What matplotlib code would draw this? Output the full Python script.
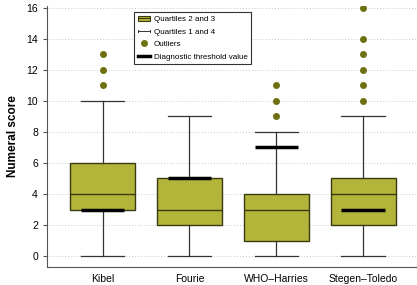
import matplotlib
matplotlib.use("Agg")
import matplotlib.pyplot as plt
from matplotlib.lines import Line2D
from matplotlib.legend_handler import HandlerBase
import matplotlib.patches as mpatches

plt.rcParams['font.family'] = ['Liberation Sans Narrow', 'Liberation Sans', 'DejaVu Sans']

categories = ["Kibel", "Fourie", "WHO\u2013Harries", "Stegen\u2013Toledo"]
whislo = [0, 0, 0, 0]
q1 = [3, 2, 1, 2]
med = [4, 3, 3, 4]
q3 = [6, 5, 4, 5]
whishi = [10, 9, 8, 9]
outliers = [[11, 12, 13], [], [9, 10, 11], [10, 11, 12, 13, 14, 16]]
threshold = [3, 5, 7, 3]
yticks = [0, 2, 4, 6, 8, 10, 12, 14, 16]

FILL = "#b3b53a"
EDGE = "#3a3a12"
OUT = "#6e7012"

fig = plt.figure(figsize=(4.17, 2.85), dpi=100)
ax = fig.add_axes([47/417, 18/285, 370/417, 261/285])

stats = []
for i, c in enumerate(categories):
    stats.append(dict(label=c, whislo=whislo[i], q1=q1[i], med=med[i], q3=q3[i],
                      whishi=whishi[i], fliers=outliers[i]))

ax.bxp(stats, positions=range(len(categories)), widths=0.75, patch_artist=True,
       boxprops=dict(facecolor=FILL, edgecolor=EDGE, linewidth=1.0),
       medianprops=dict(color=EDGE, linewidth=1.0),
       whiskerprops=dict(color="#333333", linewidth=0.9),
       capprops=dict(color="#333333", linewidth=0.9),
       capwidths=0.5,
       flierprops=dict(marker='o', markerfacecolor=OUT, markeredgecolor=OUT, markersize=4),
       zorder=3)

for i, t in enumerate(threshold):
    ax.hlines(t, i - 0.25, i + 0.25, colors="black", linewidth=2.5, zorder=5)

ax.set_xlim(-0.64, 3.62)
ax.set_ylim(-0.7, 16.1)
ax.set_yticks(yticks)
ax.set_yticklabels([str(v) for v in yticks])
ax.yaxis.grid(True, linestyle=(0, (1, 2)), color="#c8c8c8", linewidth=0.7)
ax.set_axisbelow(True)
for s in ["top", "right"]:
    ax.spines[s].set_visible(False)
ax.spines["left"].set_color("#555555")
ax.spines["bottom"].set_color("#555555")
ax.tick_params(axis='both', labelsize=7.5, color="#555555", length=3)
ax.tick_params(axis='x', length=0, pad=5)
ax.set_ylabel("Numeral score", fontsize=8.5, fontweight='bold', labelpad=5)


class BoxHandler(HandlerBase):
    def create_artists(self, legend, orig_handle, xdescent, ydescent, width, height, fontsize, trans):
        r = mpatches.Rectangle((-xdescent, -ydescent), width, height, facecolor=FILL,
                               edgecolor=EDGE, linewidth=0.8, transform=trans)
        l = Line2D([-xdescent, -xdescent + width], [-ydescent + height/2]*2, color=EDGE,
                   linewidth=0.8, transform=trans)
        return [r, l]


class WhiskerHandler(HandlerBase):
    def create_artists(self, legend, orig_handle, xdescent, ydescent, width, height, fontsize, trans):
        y = -ydescent + height/2
        l = Line2D([-xdescent, -xdescent + width], [y, y], color="#333333", linewidth=0.7, transform=trans)
        c1 = Line2D([-xdescent]*2, [y - height*0.2, y + height*0.2], color="#333333", linewidth=0.7, transform=trans)
        c2 = Line2D([-xdescent + width]*2, [y - height*0.2, y + height*0.2], color="#333333", linewidth=0.7, transform=trans)
        return [l, c1, c2]


h_box = mpatches.Rectangle((0, 0), 1, 1)
h_wh = Line2D([], [])
h_out = Line2D([], [], marker='o', linestyle='none', markerfacecolor=OUT, markeredgecolor=OUT, markersize=4)
h_thr = Line2D([], [], color='black', linewidth=2.5)

leg = ax.legend([h_box, h_wh, h_out, h_thr],
                ["Quartiles 2 and 3", "Quartiles 1 and 4", "Outliers", "Diagnostic threshold value"],
                handler_map={h_box: BoxHandler(), h_wh: WhiskerHandler()},
                loc='upper left', bbox_to_anchor=(0.235, 0.977), fontsize=5.8,
                frameon=True, fancybox=False, edgecolor="#333333", framealpha=1,
                handlelength=1.6, handletextpad=0.4, labelspacing=0.6, borderpad=0.45,
                borderaxespad=0)
leg.get_frame().set_linewidth(0.8)

fig.savefig("out.png", dpi=100)
